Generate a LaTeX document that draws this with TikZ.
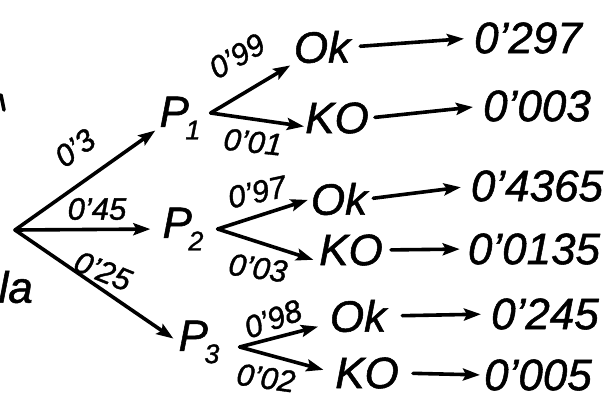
\documentclass[tikz,border=0pt]{standalone}
\usepackage{fontspec}
\setmainfont{Liberation Sans}[ItalicFeatures={FakeBold=1.2}]
\usetikzlibrary{arrows.meta}
\newcommand\Pn[1]{P\kern-0.08em\raisebox{-0.28em}{\fontsize{27}{27}\selectfont #1}}
\tikzset{
  ink/.style={line width=3.6pt, line cap=round, line join=round},
  arr/.style={ink, -{Stealth[length=17pt,width=12pt,inset=3pt]}},
  big/.style={inner sep=0pt, font=\fontsize{44}{44}\selectfont\itshape},
  prob/.style={inner sep=0pt, font=\fontsize{31}{31}\selectfont\itshape},
}
\begin{document}
\begin{tikzpicture}[x=1pt,y=-1pt]
\useasboundingbox (0,0) rectangle (615,399);

% root of the tree and the cut-off fragments on the left edge
\coordinate (root) at (15,230);
\draw[ink] (1,95) -- (4,110);
\node[big, anchor=east] (rootlbl) at (33,287) {la};

% first level
\node[big] (P1) at (180,118) {\Pn{1}};
\node[big] (P2) at (183,229) {\Pn{2}};
\node[big] (P3) at (199,342) {\Pn{3}};

\draw[arr, shorten >=5pt] (root) -- (P1.205);
\draw[arr, shorten >=12pt] (root) -- (P2.west);
\draw[arr, shorten >=6pt] (root) -- (P3.west);

\node[prob, rotate=36] (l1) at (75,148) {0’3};
\node[prob] (l2) at (97,209) {0’45};
\node[prob, rotate=-22] (l3) at (103,271) {0’25};

% second level
\node[big] (ok1) at (322,47) {Ok};
\node[big] (ko1) at (337,118) {KO};
\node[big] (ok2) at (339,199) {Ok};
\node[big] (ko2) at (351,250) {KO};
\node[big] (ok3) at (358,316) {Ok};
\node[big] (ko3) at (367,373) {KO};

% forks to the right of each P
\draw[arr, shorten >=4pt] ([xshift=10pt,yshift=5pt]P1.east) -- (ok1.south west);
\draw[arr, shorten >=1pt] ([xshift=10pt,yshift=5pt]P1.east) -- (ko1.-165);
\draw[arr, shorten >=3pt] ([xshift=14pt]P2.east) -- (ok2.west);
\draw[arr, shorten >=6pt] ([xshift=14pt]P2.east) -- (ko2.-160);
\draw[arr, shorten >=12pt] ([xshift=20pt,yshift=-5pt]P3.east) -- (ok3.-165);
\draw[arr, shorten >=12pt] ([xshift=20pt,yshift=-5pt]P3.east) -- (ko3.west);

\node[prob, rotate=30] (l11) at (237,56) {0’99};
\node[prob, rotate=-6] (l12) at (253,142) {0’01};
\node[prob, rotate=12] (l21) at (257,192) {0’97};
\node[prob, rotate=-8] (l22) at (258,268) {0’03};
\node[prob, rotate=20] (l31) at (273,319) {0’98};
\node[prob, rotate=-8] (l32) at (266,378) {0’02};

% joint probabilities
\node[big] (r1) at (528,38) {0’297};
\node[big] (r2) at (537,106) {0’003};
\node[big] (r3) at (537,186) {0’4365};
\node[big] (r4) at (534,249) {0’0135};
\node[big] (r5) at (545,314) {0’245};
\node[big] (r6) at (538,375) {0’005};

\draw[arr, shorten <=10pt, shorten >=10pt] (ok1.east) -- (r1.west);
\draw[arr, shorten <=6pt, shorten >=10pt] (ko1.east) -- (r2.west);
\draw[arr, shorten <=6pt, shorten >=10pt] (ok2.east) -- (r3.west);
\draw[arr, shorten <=8pt, shorten >=8pt] (ko2.east) -- (r4.west);
\draw[arr, shorten <=16pt, shorten >=10pt] (ok3.east) -- (r5.west);
\draw[arr, shorten <=14pt, shorten >=4pt] (ko3.east) -- (r6.west);
\end{tikzpicture}
\end{document}
